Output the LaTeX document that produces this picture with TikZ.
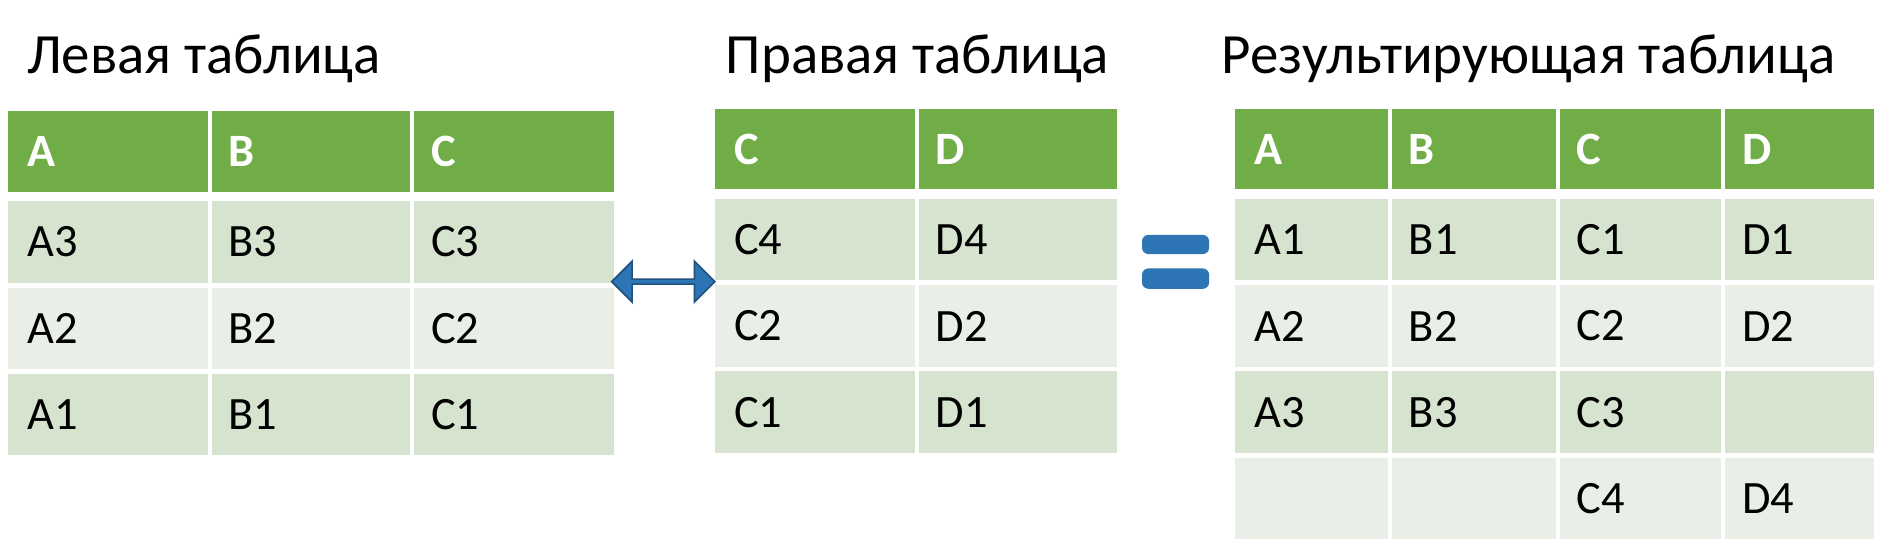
\documentclass[tikz,border=0pt]{standalone}
\usepackage{fontspec}
\setmainfont{Carlito}
\usetikzlibrary{shapes.arrows}
\definecolor{hdr}{HTML}{70AD47}
\definecolor{odd}{HTML}{D5E3CF}
\definecolor{even}{HTML}{E9EFE7}
\definecolor{blu}{HTML}{2E75B6}
\tikzset{
  cell/.style={draw=white,line width=0.8pt,anchor=north west,inner sep=0pt},
  head/.style={font=\fontsize{11}{13}\selectfont\bfseries,text=white},
  val/.style={font=\fontsize{11}{13}\selectfont},
  title/.style={font=\fontsize{13.5}{16}\selectfont,anchor=base west,inner sep=0pt}
}
% \tcell{name}{x0}{y0}{x1}{y1}{colour}{text}{style}
\newcommand{\tcell}[8]{%
  \fill[#6] (#2,#3) rectangle (#4,#5);
  \node[#8,anchor=west,inner sep=0pt] (#1) at ($(#2,{(#3+#5)/2})+(15,0)$) {#7};}
\usetikzlibrary{calc}
\begin{document}
\begin{tikzpicture}[x=0.01cm,y=-0.01cm]
\useasboundingbox (0,0) rectangle (1568,454);
% titles
\node[title] (tl) at (22,61) {Левая таблица};
\node[title] (tm) at (605,61) {Правая таблица};
\node[title] (tr) at (1019,61) {Результирующая таблица};
% left table
\foreach \x/\xx/\c [count=\i] in {7/175/A,175/344/B,344/512/C}{
  \tcell{lh\i}{\x}{93}{\xx}{160}{hdr}{\c}{head}
  \tcell{l1\i}{\x}{168}{\xx}{236}{odd}{\c3}{val}
  \tcell{l2\i}{\x}{240}{\xx}{308}{even}{\c2}{val}
  \tcell{l3\i}{\x}{312}{\xx}{380}{odd}{\c1}{val}
}
% middle table
\foreach \x/\xx/\c [count=\i] in {597/765/C,765/932/D}{
  \tcell{mh\i}{\x}{91}{\xx}{158}{hdr}{\c}{head}
  \tcell{m1\i}{\x}{166}{\xx}{234}{odd}{\c4}{val}
  \tcell{m2\i}{\x}{238}{\xx}{306}{even}{\c2}{val}
  \tcell{m3\i}{\x}{310}{\xx}{378}{odd}{\c1}{val}
}
% result table
\foreach \x/\xx/\c/\p/\q [count=\i] in {1031/1160/A/A3/,1160/1300/B/B3/,1300/1438/C/C3/C4,1438/1564/D//D4}{
  \tcell{rh\i}{\x}{91}{\xx}{158}{hdr}{\c}{head}
  \tcell{r1\i}{\x}{166}{\xx}{234}{odd}{\c1}{val}
  \tcell{r2\i}{\x}{238}{\xx}{306}{even}{\c2}{val}
  \tcell{r3\i}{\x}{310}{\xx}{378}{odd}{\p}{val}
  \tcell{r4\i}{\x}{382}{\xx}{450}{even}{\q}{val}
}
% column separators
\foreach \x in {175,344} \draw[white,line width=1pt] (\x,93) -- (\x,380);
\foreach \x in {765} \draw[white,line width=1pt] (\x,91) -- (\x,378);
\foreach \x in {1160,1300,1438} \draw[white,line width=1pt] (\x,91) -- (\x,450);
% join arrow and equals sign
\node[double arrow,fill=blu,draw=blu!70!black,minimum width=0.34cm,double arrow head extend=0.05cm,
  minimum height=0.86cm,inner sep=0pt] (join) at (553.5,235) {};
\fill[blu,rounded corners=1.5pt] (953,196) rectangle (1009,212);
\fill[blu,rounded corners=1.5pt] (953,224) rectangle (1009,241);
\end{tikzpicture}
\end{document}
